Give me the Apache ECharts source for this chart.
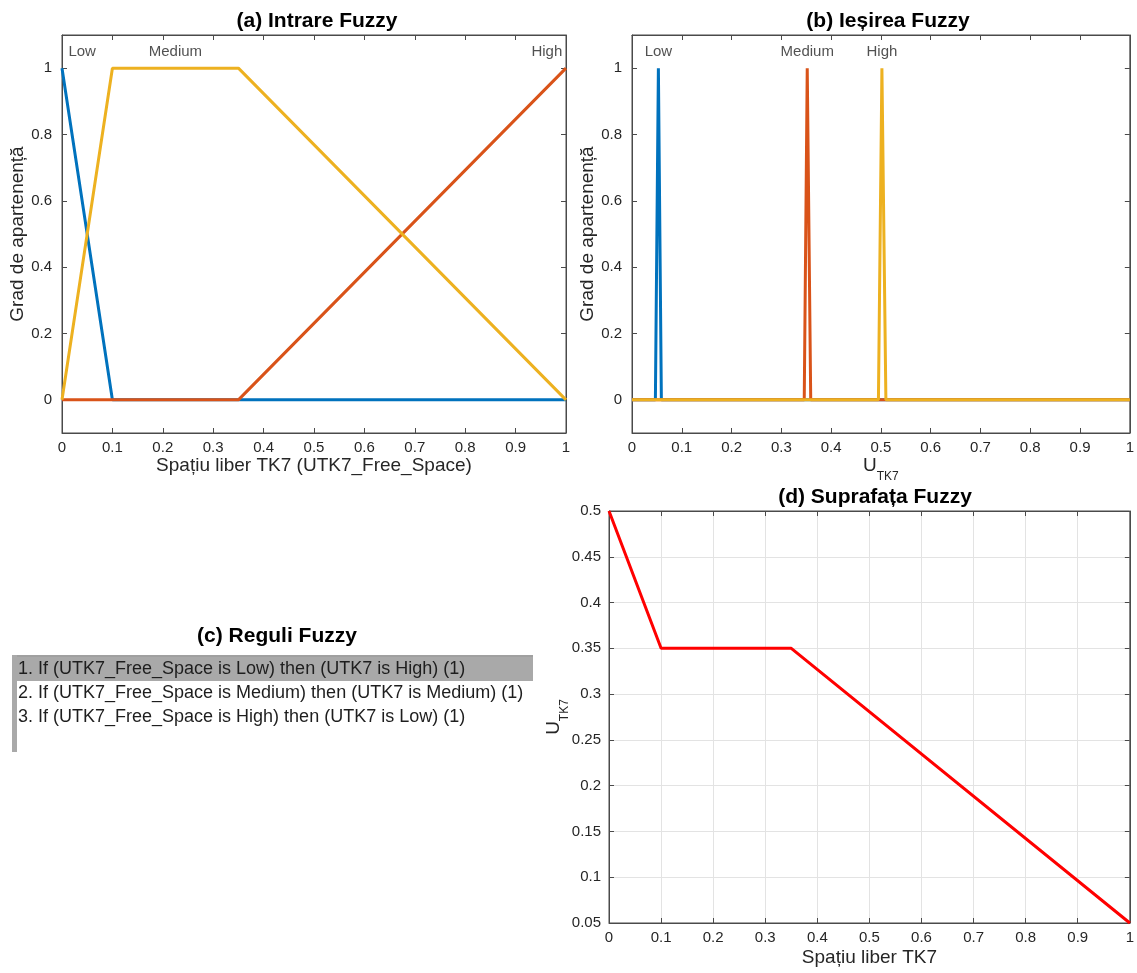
<!DOCTYPE html>
<html>
<head>
<meta charset="utf-8">
<script src="https://cdn.jsdelivr.net/npm/echarts@6/dist/echarts.min.js"></script>
<style>html,body{margin:0;padding:0;background:#fff}#c{width:1137px;height:973px}</style>
</head>
<body>
<div id="c"></div>
<script>
// ---------- data ----------
const xTicks = [0, 0.1, 0.2, 0.3, 0.4, 0.5, 0.6, 0.7, 0.8, 0.9, 1];
const yTicksMF = [0, 0.2, 0.4, 0.6, 0.8, 1];

// (a) input membership functions
const inLow    = [[0, 1], [0.1, 0], [1, 0]];
const inHigh   = [[0, 0], [0.35, 0], [1, 1]];
const inMedium = [[0, 0], [0.1, 1], [0.35, 1], [1, 0]];
const inLabels = [{name: 'Low', value: [0.04, 1.05]}, {name: 'Medium', value: [0.225, 1.05]}, {name: 'High', value: [0.962, 1.05]}];

// (b) output membership functions
const outLow    = [[0, 0], [0.047, 0], [0.053, 1], [0.059, 0], [1, 0]];
const outMedium = [[0, 0], [0.346, 0], [0.352, 1], [0.359, 0], [1, 0]];
const outHigh   = [[0, 0], [0.495, 0], [0.502, 1], [0.51, 0], [1, 0]];
const outLabels = [{name: 'Low', value: [0.053, 1.05]}, {name: 'Medium', value: [0.352, 1.05]}, {name: 'High', value: [0.502, 1.05]}];

// (c) rules
const rules = [
  '1. If (UTK7_Free_Space is Low) then (UTK7 is High) (1)',
  '2. If (UTK7_Free_Space is Medium) then (UTK7 is Medium) (1)',
  '3. If (UTK7_Free_Space is High) then (UTK7 is Low) (1)'
];

// (d) surface
const surface = [[0, 0.5], [0.1, 0.35], [0.35, 0.35], [1, 0.05]];

// ---------- style ----------
const FONT = 'Liberation Sans, Arial, sans-serif';
const AX = '#4a4a4a';
const TXT = '#262626';
const C_BLUE = '#0072BD', C_ORANGE = '#D95319', C_YELLOW = '#EDB120';

const gridA = {left: 62, top: 35, width: 504, height: 398, show: true, borderColor: AX, borderWidth: 1};
const gridB = {left: 632, top: 35, width: 502, height: 398, show: true, borderColor: AX, borderWidth: 1};
const gridD = {left: 609, top: 511, width: 523, height: 412, show: true, borderColor: AX, borderWidth: 1};

function xMain(gi, name, extra) {
  return Object.assign({
    type: 'value', gridIndex: gi, min: 0, max: 1, interval: 0.1, position: 'bottom',
    axisLine: {show: true, onZero: false, lineStyle: {color: AX}},
    axisTick: {show: true, inside: true, length: 5, lineStyle: {color: AX}},
    axisLabel: {color: TXT, fontSize: 15, fontFamily: FONT, margin: 7},
    splitLine: {show: false},
    name: name, nameLocation: 'middle', nameGap: 22,
    nameTextStyle: {color: TXT, fontSize: 19, fontFamily: FONT}
  }, extra || {});
}
function xTop(gi, extra) {
  return Object.assign({
    type: 'value', gridIndex: gi, min: 0, max: 1, interval: 0.1, position: 'top',
    axisLine: {show: true, onZero: false, lineStyle: {color: AX}},
    axisTick: {show: true, inside: true, length: 5, lineStyle: {color: AX}},
    axisLabel: {show: false}, splitLine: {show: false}
  }, extra || {});
}
function yMF(gi, pos, withLabel, name, gap) {
  const o = {
    type: 'value', gridIndex: gi, min: -0.1, max: 1.1, position: pos,
    axisLine: {show: true, onZero: false, lineStyle: {color: AX}},
    axisTick: {show: true, inside: true, length: 5, customValues: yTicksMF, lineStyle: {color: AX}},
    axisLabel: {show: withLabel, customValues: yTicksMF, color: TXT, fontSize: 15, fontFamily: FONT, margin: 10},
    splitLine: {show: false}
  };
  if (name) {
    o.name = name; o.nameLocation = 'middle'; o.nameGap = gap;
    o.nameTextStyle = {color: TXT, fontSize: 19, fontFamily: FONT};
  }
  return o;
}

const subRich = {
  u: {fontSize: 19, fontFamily: FONT, color: TXT, lineHeight: 22},
  s: {fontSize: 12, fontFamily: FONT, color: TXT, lineHeight: 22, verticalAlign: 'bottom', padding: [0, 0, -6, 0]}
};

function line(data, color, xi, yi, w) {
  return {type: 'line', data: data, xAxisIndex: xi, yAxisIndex: yi, showSymbol: false, symbol: 'none',
    lineStyle: {color: color, width: w || 3}, itemStyle: {color: color}, silent: true, animation: false, z: 3};
}
function labels(data, xi, yi) {
  return {type: 'scatter', data: data, xAxisIndex: xi, yAxisIndex: yi, symbolSize: 0, silent: true, animation: false,
    label: {show: true, position: 'inside', formatter: '{b}', color: TXT, fontSize: 15, fontFamily: FONT}};
}

const titleStyle = {fontSize: 21, fontWeight: 'bold', fontFamily: FONT, color: '#000'};

const graphic = [
  {type: 'rect', shape: {x: 12, y: 655, width: 521, height: 97}, style: {fill: '#fff'}},
  {type: 'rect', shape: {x: 17, y: 657, width: 516, height: 24}, style: {fill: '#a9a9a9'}},
  {type: 'rect', shape: {x: 12, y: 655, width: 521, height: 2}, style: {fill: '#a0a0a0'}},
  {type: 'rect', shape: {x: 12, y: 655, width: 5, height: 97}, style: {fill: '#a9a9a9'}}
];
rules.forEach(function (r, i) {
  graphic.push({type: 'text', x: 18, y: 669 + i * 24,
    style: {text: r, fill: '#1e1e1e', fontSize: 18, fontFamily: FONT, verticalAlign: 'middle', align: 'left'}});
});

const option = {
  backgroundColor: '#fff',
  animation: false,
  title: [
    {text: '(a) Intrare Fuzzy', left: 312, top: 6, textAlign: 'center', textStyle: titleStyle},
    {text: '(b) Ieșirea Fuzzy', left: 883, top: 6, textAlign: 'center', textStyle: titleStyle},
    {text: '(c) Reguli Fuzzy', left: 272, top: 621, textAlign: 'center', textStyle: titleStyle},
    {text: '(d) Suprafața Fuzzy', left: 870, top: 482, textAlign: 'center', textStyle: titleStyle}
  ],
  grid: [gridA, gridB, gridD],
  xAxis: [
    xMain(0, 'Spațiu liber TK7 (UTK7_Free_Space)'),
    xTop(0),
    xMain(1, '{u|U}{s|TK7}', {nameTextStyle: {rich: subRich}, nameGap: 20}),
    xTop(1),
    xMain(2, 'Spațiu liber TK7', {splitLine: {show: true, lineStyle: {color: '#e3e3e3'}}, nameGap: 25}),
    xTop(2)
  ],
  yAxis: [
    yMF(0, 'left', true, 'Grad de apartenență', 34),
    yMF(0, 'right', false),
    yMF(1, 'left', true, 'Grad de apartenență', 32),
    yMF(1, 'right', false),
    {type: 'value', gridIndex: 2, min: 0.05, max: 0.5, interval: 0.05, position: 'left',
      axisLine: {show: true, onZero: false, lineStyle: {color: AX}},
      axisTick: {show: true, inside: true, length: 5, lineStyle: {color: AX}},
      axisLabel: {color: TXT, fontSize: 15, fontFamily: FONT, margin: 8},
      splitLine: {show: true, lineStyle: {color: '#e3e3e3'}},
      name: '{u|U}{s|TK7}', nameLocation: 'middle', nameGap: 44, nameRotate: 90, nameMoveOverlap: false,
      nameTextStyle: {rich: subRich}},
    {type: 'value', gridIndex: 2, min: 0.05, max: 0.5, interval: 0.05, position: 'right',
      axisLine: {show: true, onZero: false, lineStyle: {color: AX}},
      axisTick: {show: true, inside: true, length: 5, lineStyle: {color: AX}},
      axisLabel: {show: false}, splitLine: {show: false}}
  ],
  series: [
    line(inLow, C_BLUE, 0, 0),
    line(inHigh, C_ORANGE, 0, 0),
    line(inMedium, C_YELLOW, 0, 0),
    labels(inLabels, 0, 0),
    line(outLow, C_BLUE, 2, 2),
    line(outMedium, C_ORANGE, 2, 2),
    line(outHigh, C_YELLOW, 2, 2),
    labels(outLabels, 2, 2),
    line(surface, '#FF0000', 4, 4, 3)
  ],
  graphic: graphic
};

const chart = echarts.init(document.getElementById('c'), null, {renderer: 'canvas'});
chart.setOption(option);
</script>
</body>
</html>
